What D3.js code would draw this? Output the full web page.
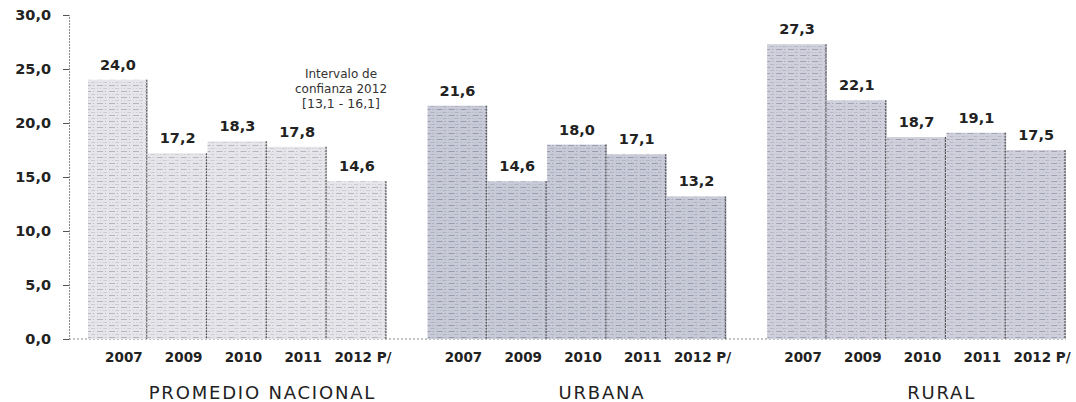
<!DOCTYPE html>
<html><head><meta charset="utf-8">
<script src="https://cdn.jsdelivr.net/npm/d3@7"></script>
<style>html,body{margin:0;padding:0;background:#fff;}svg{display:block;}</style>
</head><body>
<svg id="chart" width="1076" height="402"></svg>
<script>
const groups = ["PROMEDIO NACIONAL", "URBANA", "RURAL"];
const years = ["2007", "2009", "2010", "2011", "2012 P/"];
const nacional = [24.0, 17.2, 18.3, 17.8, 14.6];
const urbana = [21.6, 14.6, 18.0, 17.1, 13.2];
const rural = [27.3, 22.1, 18.7, 19.1, 17.5];
const yTicks = [0, 5, 10, 15, 20, 25, 30];
const note = ["Intervalo de", "confianza 2012", "[13,1 - 16,1]"];

const series = [nacional, urbana, rural];
const data = [];
groups.forEach((g, gi) => years.forEach((yr, yi) => data.push({g, gi, yr, v: series[gi][yi]})));

const svg = d3.select("#chart");
const x0 = d3.scaleBand().domain(groups).range([88, 1066]).paddingInner(0.12).paddingOuter(0);
const x1 = d3.scaleBand().domain(years).range([0, x0.bandwidth()]).padding(0);
const y = d3.scaleLinear().domain([0, 30]).range([339, 15]);
const fmt = d => d.toFixed(1).replace(".", ",");

const defs = svg.append("defs");
const palettes = [
  {base: "#e6e6ea", dash: "#a9aab4"},
  {base: "#c8cad8", dash: "#8d90a3"},
  {base: "#cfd0dc", dash: "#9597a8"}
];
palettes.forEach((p, i) => {
  const pat = defs.append("pattern").attr("id", "pat" + i).attr("patternUnits", "userSpaceOnUse")
    .attr("width", 12).attr("height", 6);
  pat.append("rect").attr("width", 12).attr("height", 6).attr("fill", p.base);
  pat.append("line").attr("x1", 0).attr("x2", 12).attr("y1", 1.5).attr("y2", 1.5)
    .attr("stroke", p.dash).attr("stroke-width", 0.8).attr("stroke-dasharray", "3,2,1,3");
  pat.append("line").attr("x1", 0).attr("x2", 12).attr("y1", 4.5).attr("y2", 4.5)
    .attr("stroke", p.dash).attr("stroke-width", 0.6).attr("stroke-dasharray", "1,2,4,2").attr("opacity", 0.7);
});

// baseline
svg.append("line").attr("x1", 69).attr("x2", 1066).attr("y1", y(0)).attr("y2", y(0))
  .attr("stroke", "#888").attr("stroke-dasharray", "2,2");

// bars
const bars = svg.append("g").selectAll("g").data(data).join("g")
  .attr("transform", d => `translate(${x0(d.g) + x1(d.yr)},0)`);
bars.append("rect")
  .attr("x", 0).attr("y", d => y(d.v))
  .attr("width", x1.bandwidth()).attr("height", d => y(0) - y(d.v))
  .attr("fill", d => `url(#pat${d.gi})`);
bars.append("line")
  .attr("x1", x1.bandwidth() - 1).attr("x2", x1.bandwidth() - 1)
  .attr("y1", d => y(d.v)).attr("y2", y(0))
  .attr("stroke", "#555").attr("stroke-width", 1.2).attr("stroke-dasharray", "2,1");

// value labels
bars.append("text")
  .attr("x", x1.bandwidth() / 2).attr("y", d => y(d.v) - 10)
  .attr("text-anchor", "middle")
  .attr("font-family", "DejaVu Sans").attr("font-weight", "bold").attr("font-size", 14.5)
  .attr("fill", "#222").text(d => fmt(d.v));

// year labels
bars.append("text")
  .attr("x", x1.bandwidth() / 2 + 6).attr("y", 362)
  .attr("text-anchor", "middle")
  .attr("font-family", "DejaVu Sans").attr("font-weight", "bold").attr("font-size", 13.5)
  .attr("fill", "#222").text(d => d.yr);

// group titles
svg.append("g").selectAll("text").data(groups).join("text")
  .attr("x", g => x0(g) + x0.bandwidth() / 2 + 25).attr("y", 399)
  .attr("text-anchor", "middle")
  .attr("font-family", "DejaVu Sans").attr("font-size", 18).attr("letter-spacing", 1.8)
  .attr("fill", "#222").text(g => g);

// y axis
const ax = svg.append("g").attr("transform", "translate(69,0)")
  .call(d3.axisLeft(y).tickValues(yTicks).tickFormat(fmt).tickSize(6).tickPadding(12));
ax.select(".domain").attr("stroke", "#888").attr("stroke-dasharray", "2,1");
ax.selectAll(".tick line").attr("stroke", "#555");
ax.selectAll(".tick text").attr("font-family", "DejaVu Sans").attr("font-weight", "bold")
  .attr("font-size", 14.5).attr("fill", "#222");

// annotation
svg.append("g").selectAll("text").data(note).join("text")
  .attr("x", 341).attr("y", (d, i) => 78 + i * 15)
  .attr("text-anchor", "middle")
  .attr("font-family", "DejaVu Sans").attr("font-size", (d, i) => i === 2 ? 12.5 : 12)
  .attr("fill", "#333").text(d => d);
</script>
</body></html>
